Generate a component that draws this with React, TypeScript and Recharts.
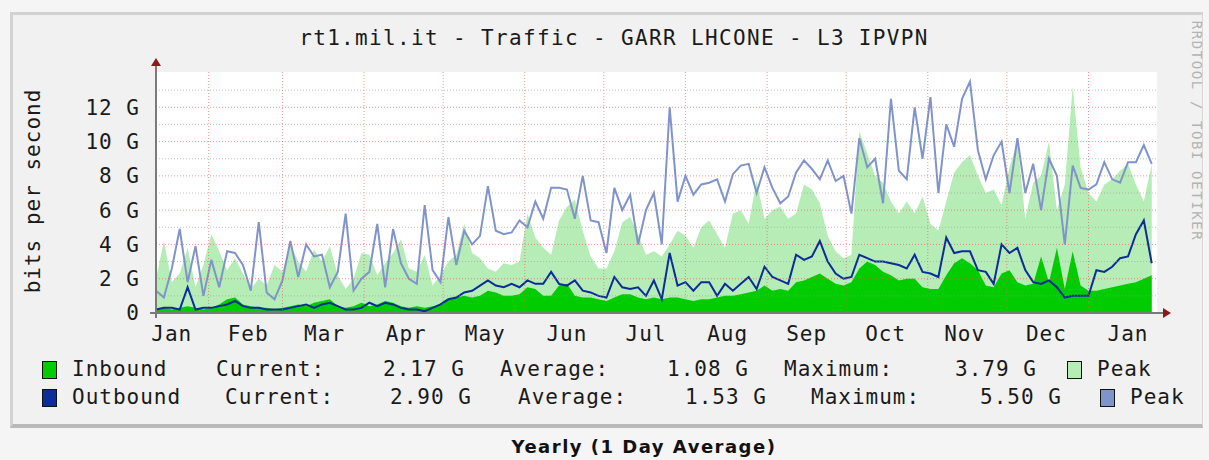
import React from 'react';
import { ComposedChart, Area, Line, XAxis, YAxis, CartesianGrid, ReferenceLine } from 'recharts';

// ---- data (values in G bits/s, one sample every 3 days) ----
const DAY_STEP = 3;

const inboundPeak = [
  2.0, 4.2, 1.8, 2.3, 3.8, 1.5, 2.8,
  4.6, 3.6, 2.5, 3.2, 2.3, 1.4, 2.0, 1.6, 2.8, 2.4,
  4.0, 3.0, 2.4, 3.7, 3.0, 3.9, 2.2, 1.4, 2.0, 3.5,
  3.4, 2.2, 2.9, 3.5, 4.3, 2.6, 2.4, 3.4, 1.6, 2.2,
  3.0, 3.4, 5.2, 3.5, 3.2, 2.6, 2.4, 2.9, 2.8, 3.0,
  5.8, 4.4, 3.8, 3.4, 5.4, 6.2, 6.6, 4.8, 3.3, 2.6,
  2.6, 3.6, 5.3, 5.6, 4.6, 3.4, 3.6, 3.3, 4.0, 4.8,
  4.5, 3.8, 5.0, 5.4, 4.6, 3.8, 5.8, 6.0, 5.2, 7.7,
  5.5, 6.0, 6.2, 5.5, 5.8, 7.5, 7.2, 6.4, 4.5, 3.6,
  3.2, 3.4, 10.6, 9.3, 8.0, 7.6, 6.5, 5.8, 6.5, 5.8,
  6.8, 5.2, 4.8, 6.5, 8.2, 8.8, 9.2, 8.0, 7.0, 7.2,
  6.3, 8.5, 10.0, 5.5, 7.6, 8.0, 10.0, 6.0, 7.5, 13.2,
  8.5, 7.0, 6.5, 7.5, 7.8, 8.3, 8.7, 7.5, 6.5, 8.7,
];

const inboundAvg = [
  0.2, 0.3, 0.2, 0.3, 0.4, 0.3, 0.2,
  0.3, 0.5, 0.8, 0.9, 0.5, 0.4, 0.3, 0.3, 0.2, 0.3,
  0.4, 0.5, 0.4, 0.6, 0.7, 0.8, 0.4, 0.3, 0.4, 0.6,
  0.4, 0.5, 0.7, 0.6, 0.4, 0.3, 0.4, 0.3, 0.4, 0.5,
  0.8, 0.9, 1.0, 0.9, 1.0, 1.3, 1.2, 1.0, 1.0, 1.1,
  1.5, 1.4, 1.0, 1.0, 1.6, 1.7, 1.0, 0.9, 0.9, 0.8,
  0.7, 0.9, 1.1, 1.1, 0.9, 0.8, 0.9, 0.8, 0.9, 0.9,
  0.8, 0.7, 0.8, 0.8, 0.9, 1.0, 1.0, 1.1, 1.2, 1.3,
  1.6, 1.3, 1.4, 1.3, 1.8, 1.9, 2.1, 2.3, 2.0, 1.7,
  1.6, 1.8, 2.6, 3.0, 2.8, 2.4, 2.2, 1.9, 2.0, 2.0,
  1.5, 1.4, 1.4, 2.2, 2.9, 3.2, 2.9, 2.5, 1.6, 1.5,
  2.3, 2.5, 1.8, 1.6, 1.7, 3.3, 1.8, 3.8, 1.4, 3.6,
  1.6, 1.3, 1.3, 1.4, 1.5, 1.6, 1.7, 1.8, 2.0, 2.2,
];

const outboundPeak = [
  1.3, 0.9, 2.6, 4.9, 1.8, 3.9, 1.0,
  3.1, 1.5, 3.6, 3.5, 2.8, 1.3, 5.3, 1.2, 0.8, 1.9,
  4.2, 2.1, 4.0, 3.3, 3.4, 1.5, 2.4, 5.8, 1.3, 2.0,
  2.4, 5.2, 1.5, 4.9, 2.9, 2.0, 1.7, 6.3, 2.5, 1.8,
  5.6, 2.8, 4.8, 4.0, 4.5, 7.4, 4.8, 4.6, 4.7, 5.4,
  5.0, 6.5, 5.5, 7.3, 7.3, 7.2, 5.5, 8.0, 5.4, 5.3,
  3.5, 7.3, 6.0, 6.9, 4.0, 6.0, 7.0, 4.0, 12.0, 6.5,
  8.0, 6.9, 7.5, 7.6, 7.8, 6.5, 8.1, 8.6, 8.7, 7.0,
  8.5, 7.3, 6.4, 6.8, 8.2, 8.9, 8.4, 7.8, 8.9, 7.7,
  8.0, 5.8, 10.2, 8.5, 9.0, 6.4, 12.5, 8.3, 7.8, 12.0,
  9.0, 12.6, 7.0, 11.0, 9.7, 12.5, 13.5, 9.5, 7.8, 9.2,
  10.0, 7.0, 10.2, 7.0, 8.7, 6.0, 9.0, 8.0, 4.0, 8.6,
  7.3, 7.2, 7.5, 8.8, 7.8, 7.6, 8.8, 8.8, 9.8, 8.7,
];

const outboundAvg = [
  0.2, 0.3, 0.3, 0.2, 1.5, 0.2, 0.3,
  0.3, 0.4, 0.5, 0.7, 0.4, 0.3, 0.3, 0.2, 0.2, 0.2,
  0.3, 0.4, 0.5, 0.3, 0.5, 0.6, 0.4, 0.2, 0.2, 0.3,
  0.6, 0.4, 0.6, 0.5, 0.3, 0.2, 0.2, 0.1, 0.3, 0.5,
  0.8, 0.9, 1.2, 1.3, 1.6, 1.9, 1.6, 1.5, 1.7, 1.5,
  1.9, 1.7, 1.7, 2.4, 1.7, 1.6, 1.9, 1.3, 1.2, 1.0,
  0.9, 2.1, 1.5, 1.4, 1.5, 1.0, 1.9, 0.8, 3.5, 1.6,
  1.8, 1.3, 1.8, 1.8, 1.0, 1.7, 1.3, 1.7, 2.1, 1.4,
  2.7, 2.1, 1.9, 1.7, 3.4, 3.1, 3.3, 4.2, 3.0, 2.3,
  2.0, 2.1, 3.4, 3.2, 3.0, 3.0, 2.9, 2.8, 2.6, 3.4,
  2.4, 2.3, 2.1, 4.4, 3.5, 3.6, 3.6, 2.5, 2.4, 1.7,
  4.0, 3.5, 3.8, 2.5, 1.8, 1.7, 1.9, 1.5, 0.9, 1.0,
  1.0, 1.0, 2.5, 2.4, 2.7, 3.2, 3.3, 4.6, 5.4, 2.9,
];

const monthLabels = ['Jan', 'Feb', 'Mar', 'Apr', 'May', 'Jun', 'Jul', 'Aug', 'Sep', 'Oct', 'Nov', 'Dec', 'Jan'];
const monthLabelDays = [6, 35, 64, 95, 125, 156, 186, 217, 247, 277, 307, 338, 369];
const monthStartDays = [20, 48, 79, 109, 140, 170, 201, 232, 262, 293, 323, 354];
const yTicks = [0, 2, 4, 6, 8, 10, 12];
const majorY = [2, 4, 6, 8, 10, 12];
const minorY = [1, 3, 5, 7, 9, 11, 13];

const titleText = 'rt1.mil.it - Traffic - GARR LHCONE - L3 IPVPN';
const yAxisTitle = 'bits per second';
const watermark = 'RRDTOOL / TOBI OETIKER';
const caption = 'Yearly (1 Day Average)';
const legendInbound = ['Inbound', 'Current:', '2.17 G', 'Average:', '1.08 G', 'Maximum:', '3.79 G', 'Peak'];
const legendOutbound = ['Outbound', 'Current:', '2.90 G', 'Average:', '1.53 G', 'Maximum:', '5.50 G', 'Peak'];

// ---- layout / style ----
const COL_IN = '#00cc00';
const COL_IN_PEAK = '#b6ecb6';
const COL_OUT = '#0c2c98';
const COL_OUT_PEAK = '#8094cc';
const MONO = "'DejaVu Sans Mono', monospace";
const inboundX = [72, 216, 383, 500, 667, 784, 955, 1097];
const outboundX = [72, 225, 390, 518, 685, 811, 980, 1130];

const data = inboundPeak.map((v, i) => ({
  d: i * DAY_STEP,
  inPeak: v,
  inAvg: inboundAvg[i],
  outPeak: outboundPeak[i],
  outAvg: outboundAvg[i],
}));

const textStyle: React.CSSProperties = {
  position: 'absolute',
  fontFamily: MONO,
  fontSize: 21,
  letterSpacing: 1,
  lineHeight: '24px',
  color: '#1a1a1a',
  whiteSpace: 'pre',
};

function LegendRow({ items, xs, top, main, peak }: { items: string[]; xs: number[]; top: number; main: string; peak: string }) {
  return (
    <>
      <div style={{ position: 'absolute', left: 42, top: top - 8, width: 13, height: 16, background: main, border: '1px solid #111' }} />
      <div style={{ position: 'absolute', left: xs[7] - 30, top: top - 8, width: 13, height: 16, background: peak, border: '1px solid #111' }} />
      {items.map((t, i) => (
        <span key={i} style={{ ...textStyle, left: xs[i], top: top - 12 }}>{t}</span>
      ))}
    </>
  );
}

export default function App() {
  return (
    <div style={{ position: 'absolute', left: 0, top: 0, width: 1209, height: 460, background: '#f5f5f5', overflow: 'hidden' }}>
      <div
        style={{
          position: 'absolute', left: 10, top: 12, width: 1193, height: 416, boxSizing: 'border-box',
          background: '#f1f1f1', borderTop: '3px solid #d2d2d2', borderLeft: '3px solid #d2d2d2',
          borderRight: '1px solid #d8d8d8', borderBottom: '4px solid #b9b9b9',
        }}
      />
      <div style={{ position: 'absolute', left: 0, top: 0 }}>
        <ComposedChart width={1209} height={460} data={data} margin={{ top: 72, right: 52, bottom: 0, left: 0 }}>
          <CartesianGrid fill="#ffffff" horizontal={false} vertical={false} />
          <XAxis
            type="number"
            dataKey="d"
            domain={[0, 380]}
            allowDataOverflow
            ticks={monthLabelDays}
            interval={0}
            tickFormatter={(v: number) => monthLabels[monthLabelDays.indexOf(v)]}
            tickLine={false}
            axisLine={false}
            tickSize={5}
            tickMargin={8}
            height={147}
            tick={{ fontFamily: MONO, fontSize: 21, fill: '#1a1a1a', letterSpacing: 1 }}
          />
          <YAxis
            type="number"
            domain={[0, 14.06]}
            allowDataOverflow
            ticks={yTicks}
            interval={0}
            tickFormatter={(v: number) => (v === 0 ? '0' : `${v} G`)}
            width={156}
            tickLine={false}
            axisLine={false}
            tickSize={4}
            tickMargin={12}
            tick={{ fontFamily: MONO, fontSize: 21, fill: '#1a1a1a', letterSpacing: 1 }}
          />
          <Area type="linear" dataKey="inPeak" stroke="none" fill={COL_IN_PEAK} fillOpacity={1} isAnimationActive={false} dot={false} activeDot={false} />
          <Area type="linear" dataKey="inAvg" stroke="none" fill={COL_IN} fillOpacity={1} isAnimationActive={false} dot={false} activeDot={false} />
          <Line type="linear" dataKey="outPeak" stroke={COL_OUT_PEAK} strokeWidth={2} isAnimationActive={false} dot={false} activeDot={false} />
          <Line type="linear" dataKey="outAvg" stroke={COL_OUT} strokeWidth={2} isAnimationActive={false} dot={false} activeDot={false} />
          {minorY.map((v) => (
            <ReferenceLine key={`mi${v}`} y={v} stroke="#9a9a9a" strokeOpacity={0.6} strokeDasharray="1 2" />
          ))}
          {majorY.map((v) => (
            <ReferenceLine key={`ma${v}`} y={v} stroke="#e05555" strokeOpacity={0.6} strokeDasharray="1 2" />
          ))}
          {monthStartDays.map((v) => (
            <ReferenceLine key={`m${v}`} x={v} stroke="#e05555" strokeOpacity={0.6} strokeDasharray="1 2" />
          ))}
        </ComposedChart>
      </div>
      <svg width={1209} height={460} style={{ position: 'absolute', left: 0, top: 0, pointerEvents: 'none' }}>
        <line x1={156} y1={318} x2={156} y2={66} stroke="#7a7a7a" strokeWidth={2} />
        <line x1={150} y1={313} x2={1164} y2={313} stroke="#7a7a7a" strokeWidth={2} />
        <polygon points="151,66 161,66 156,58" fill="#8b1a1a" />
        <polygon points="1163,308 1163,318 1171,313" fill="#8b1a1a" />
      </svg>
      <div style={{ ...textStyle, letterSpacing: 1.35, left: 214, width: 800, top: 26, textAlign: 'center' }}>{titleText}</div>
      <div style={{ ...textStyle, left: 33 - 120, top: 191 - 12, width: 240, textAlign: 'center', transform: 'rotate(-90deg)' }}>{yAxisTitle}</div>
      <div style={{ ...textStyle, fontSize: 14, letterSpacing: 1.6, color: '#b3b3b3', left: 1197 - 120, top: 131 - 10, width: 240, lineHeight: '20px', textAlign: 'center', transform: 'rotate(90deg)' }}>{watermark}</div>
      <LegendRow items={legendInbound} xs={inboundX} top={369} main={COL_IN} peak={COL_IN_PEAK} />
      <LegendRow items={legendOutbound} xs={outboundX} top={397} main={COL_OUT} peak={COL_OUT_PEAK} />
      <div style={{ position: 'absolute', left: 444, width: 400, top: 435, textAlign: 'center', fontFamily: "'DejaVu Sans', sans-serif", fontWeight: 'bold', fontSize: 18, letterSpacing: 1.5, lineHeight: '24px', color: '#111' }}>{caption}</div>
    </div>
  );
}
